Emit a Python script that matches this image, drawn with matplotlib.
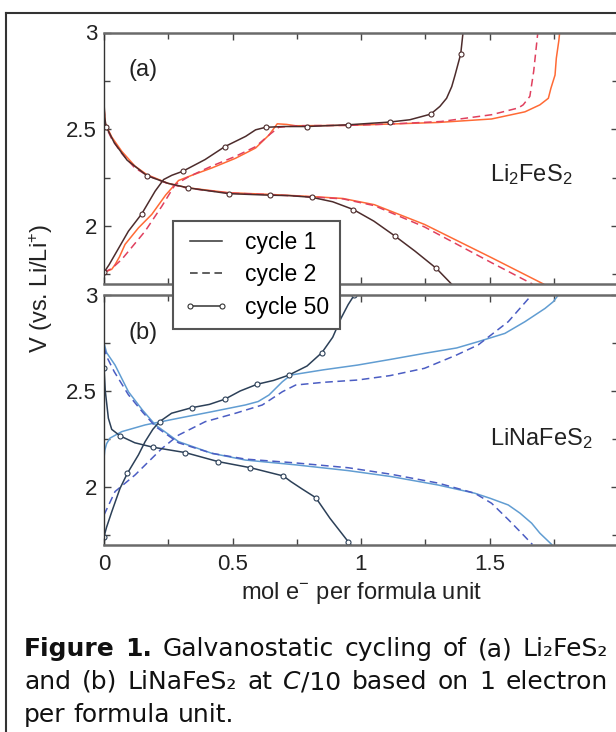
import matplotlib
matplotlib.use('Agg')
import matplotlib.pyplot as plt
from matplotlib.lines import Line2D
from matplotlib.ticker import MultipleLocator, FixedLocator

# ---- data: (a) Li2FeS2 ----
a_c1_dis_x = [0, 0.005, 0.03, 0.069, 0.12, 0.167, 0.25, 0.327, 0.486, 0.646, 0.81, 0.93, 1.052, 1.247, 1.508, 1.71]
a_c1_dis_v = [2.62, 2.53, 2.46, 2.386, 2.31, 2.265, 2.22, 2.197, 2.172, 2.163, 2.152, 2.142, 2.11, 2.008, 1.836, 1.70]
a_c2_dis_x = [0, 0.005, 0.03, 0.069, 0.12, 0.167, 0.25, 0.327, 0.486, 0.646, 0.81, 0.93, 1.052, 1.247, 1.508, 1.667]
a_c2_dis_v = [2.61, 2.52, 2.45, 2.375, 2.30, 2.262, 2.218, 2.195, 2.17, 2.162, 2.15, 2.14, 2.105, 1.995, 1.81, 1.70]
a_c50_dis_x = [0, 0.003, 0.008, 0.04, 0.09, 0.167, 0.25, 0.327, 0.486, 0.646, 0.72, 0.809, 0.89, 0.97, 1.05, 1.131, 1.21, 1.293, 1.352]
a_c50_dis_v = [2.64, 2.56, 2.514, 2.43, 2.34, 2.26, 2.22, 2.197, 2.167, 2.159, 2.157, 2.148, 2.125, 2.085, 2.025, 1.949, 1.87, 1.781, 1.70]
a_c50_dis_marks = [2, 5, 7, 8, 9, 11, 13, 15, 17]

a_c1_chg_x = [0, 0.03, 0.043, 0.06, 0.082, 0.134, 0.186, 0.24, 0.29, 0.342, 0.42, 0.512, 0.59, 0.642, 0.674,
              0.71, 0.746, 0.95, 1.117, 1.3, 1.508, 1.638, 1.696, 1.729, 1.739, 1.755, 1.76, 1.77, 1.773]
a_c1_chg_v = [1.76, 1.776, 1.80, 1.84, 1.905, 1.99, 2.06, 2.16, 2.235, 2.262, 2.30, 2.35, 2.403, 2.47, 2.528,
              2.525, 2.518, 2.52, 2.527, 2.535, 2.553, 2.59, 2.626, 2.66, 2.712, 2.78, 2.867, 2.96, 3.0]
a_c2_chg_x = [0, 0.03, 0.069, 0.16, 0.225, 0.277, 0.33, 0.42, 0.512, 0.59, 0.642, 0.68, 0.75, 0.95, 1.117,
              1.312, 1.508, 1.612, 1.631, 1.657, 1.664, 1.672, 1.68, 1.688]
a_c2_chg_v = [1.76, 1.78, 1.827, 1.973, 2.102, 2.214, 2.255, 2.31, 2.36, 2.41, 2.47, 2.51, 2.518, 2.52, 2.527,
              2.54, 2.575, 2.61, 2.626, 2.67, 2.73, 2.80, 2.90, 3.0]
a_c50_chg_x = [0, 0.02, 0.043, 0.095, 0.147, 0.199, 0.232, 0.264, 0.307, 0.393, 0.47, 0.551, 0.59, 0.629,
               0.7, 0.789, 0.951, 1.111, 1.19, 1.271, 1.307, 1.333, 1.353, 1.366, 1.388, 1.397]
a_c50_chg_v = [1.76, 1.80, 1.853, 1.973, 2.063, 2.18, 2.24, 2.262, 2.283, 2.343, 2.41, 2.463, 2.497, 2.51,
               2.514, 2.514, 2.523, 2.537, 2.549, 2.578, 2.618, 2.66, 2.72, 2.78, 2.889, 3.0]
a_c50_chg_marks = [0, 4, 8, 10, 13, 15, 16, 17, 19, 24]

# ---- (b) LiNaFeS2 ----
b_c1_dis_x = [0, 0.01, 0.043, 0.095, 0.15, 0.2, 0.29, 0.42, 0.55, 0.746, 0.95, 1.117, 1.3, 1.443, 1.502, 1.573,
              1.619, 1.664, 1.696, 1.742]
b_c1_dis_v = [2.75, 2.70, 2.635, 2.496, 2.40, 2.323, 2.236, 2.175, 2.14, 2.115, 2.085, 2.054, 2.01, 1.967, 1.941, 1.906,
              1.863, 1.811, 1.759, 1.70]
b_c2_dis_x = [0, 0.01, 0.04, 0.095, 0.15, 0.2, 0.29, 0.42, 0.55, 0.746, 0.95, 1.117, 1.3, 1.443, 1.508, 1.573,
              1.625, 1.667]
b_c2_dis_v = [2.73, 2.68, 2.60, 2.48, 2.39, 2.315, 2.23, 2.175, 2.145, 2.125, 2.10, 2.066, 2.02, 1.967, 1.915, 1.83,
              1.759, 1.70]
b_c50_dis_x = [0, 0.005, 0.017, 0.03, 0.0625, 0.12, 0.19, 0.316, 0.444, 0.57, 0.698, 0.727, 0.77, 0.824, 0.879, 0.95, 0.96]
b_c50_dis_v = [2.62, 2.50, 2.358, 2.30, 2.266, 2.23, 2.207, 2.179, 2.132, 2.10, 2.057, 2.028, 1.99, 1.944, 1.837, 1.715, 1.70]
b_c50_dis_marks = [0, 4, 6, 7, 8, 9, 10, 13, 15]

b_c1_chg_x = [0, 0.003, 0.01, 0.023, 0.069, 0.16, 0.29, 0.42, 0.55, 0.6, 0.642, 0.694, 0.727, 0.853, 0.987,
              1.113, 1.247, 1.372, 1.456, 1.56, 1.638, 1.716, 1.748, 1.768]
b_c1_chg_v = [2.15, 2.19, 2.225, 2.254, 2.288, 2.323, 2.358, 2.392, 2.427, 2.445, 2.479, 2.548, 2.583, 2.61, 2.635,
              2.664, 2.696, 2.724, 2.757, 2.80, 2.861, 2.93, 2.965, 3.0]
b_c2_chg_x = [0, 0.043, 0.121, 0.225, 0.29, 0.394, 0.512, 0.616, 0.694, 0.746, 0.853, 0.987, 1.113, 1.247,
              1.372, 1.456, 1.573, 1.664]
b_c2_chg_v = [1.854, 1.976, 2.0625, 2.2, 2.27, 2.34, 2.384, 2.427, 2.496, 2.531, 2.545, 2.557, 2.58, 2.618,
              2.6875, 2.74, 2.861, 3.0]
b_c50_chg_x = [0, 0.01, 0.03, 0.0625, 0.091, 0.134, 0.16, 0.19, 0.216, 0.263, 0.342, 0.41, 0.47, 0.53, 0.596,
               0.66, 0.72, 0.79, 0.848, 0.89, 0.922, 0.95, 0.974]
b_c50_chg_v = [1.741, 1.79, 1.87, 1.993, 2.071, 2.167, 2.236, 2.30, 2.34, 2.384, 2.413, 2.43, 2.457, 2.50, 2.535,
               2.555, 2.583, 2.63, 2.70, 2.78, 2.878, 2.95, 3.0]
b_c50_chg_marks = [0, 4, 8, 10, 12, 14, 16, 18, 22]

x_ticks = [0, 0.5, 1, 1.5]
x_tick_labels = ['0', '0.5', '1', '1.5']
y_ticks = [2, 2.5, 3]
y_tick_labels = ['2', '2.5', '3']
legend_labels = ['cycle 1', 'cycle 2', 'cycle 50']

a_colors = ['#ff6a35', '#e0405e', '#4d2c2c']
b_colors = ['#619dd2', '#4b5dc3', '#2c4058']

plt.rcParams['font.family'] = ['Liberation Sans', 'DejaVu Sans']
plt.rcParams['mathtext.fontset'] = 'custom'
plt.rcParams['mathtext.rm'] = 'Liberation Sans'
plt.rcParams['mathtext.it'] = 'Liberation Sans:italic'
plt.rcParams['mathtext.bf'] = 'Liberation Sans:bold'

W, H = 616, 732
fig = plt.figure(figsize=(W / 100, H / 100), dpi=100)


def box(top, bottom):
    return [104 / W, 1 - bottom / H, 514 / W, (bottom - top) / H]


ax1 = fig.add_axes(box(32.5, 284))
ax2 = fig.add_axes(box(295, 544.5))

LW = 1.1


def draw(ax, cols, c1, c2, c50, marks):
    for (x, v) in c1:
        ax.plot(x, v, color=cols[0], lw=LW)
    for (x, v) in c2:
        ax.plot(x, v, color=cols[1], lw=LW, ls=(0, (5, 3)))
    for (x, v), m in zip(c50, marks):
        ax.plot(x, v, color=cols[2], lw=LW, marker='o', ms=3.6, mfc='white',
                mec=cols[2], mew=0.8, markevery=m)


draw(ax1, a_colors,
     [(a_c1_dis_x, a_c1_dis_v), (a_c1_chg_x, a_c1_chg_v)],
     [(a_c2_dis_x, a_c2_dis_v), (a_c2_chg_x, a_c2_chg_v)],
     [(a_c50_dis_x, a_c50_dis_v), (a_c50_chg_x, a_c50_chg_v)],
     [a_c50_dis_marks, a_c50_chg_marks])
draw(ax2, b_colors,
     [(b_c1_dis_x, b_c1_dis_v), (b_c1_chg_x, b_c1_chg_v)],
     [(b_c2_dis_x, b_c2_dis_v), (b_c2_chg_x, b_c2_chg_v)],
     [(b_c50_dis_x, b_c50_dis_v), (b_c50_chg_x, b_c50_chg_v)],
     [b_c50_dis_marks, b_c50_chg_marks])

for ax in (ax1, ax2):
    ax.set_xlim(0, 2)
    ax.set_ylim(1.7, 3)
    ax.set_xticks(x_ticks)
    ax.set_xticklabels(x_tick_labels)
    ax.xaxis.set_minor_locator(MultipleLocator(0.25))
    ax.set_yticks(y_ticks)
    ax.set_yticklabels(y_tick_labels)
    ax.yaxis.set_minor_locator(FixedLocator([1.75, 2.25, 2.75]))
    ax.tick_params(which='both', direction='in', top=True, right=True,
                   color='#444444', width=1, labelsize=16, labelcolor='#222222')
    ax.tick_params(which='major', length=5)
    ax.tick_params(which='minor', length=4)
    ax.tick_params(axis='y', pad=5)
    ax.tick_params(axis='x', pad=6.5)
    for side in ('top', 'bottom', 'right'):
        ax.spines[side].set_color('#6a6a6a')
        ax.spines[side].set_linewidth(1.8)
    ax.spines['left'].set_color('#333333')
    ax.spines['left'].set_linewidth(1.0)

ax1.tick_params(labelbottom=False)

ax1.text(0.152, 2.807, '(a)', fontsize=17, ha='center', va='center', color='#222222')
ax2.text(0.152, 2.80, '(b)', fontsize=17, ha='center', va='center', color='#222222')
ax1.text(1.502, 2.23, r'Li$_2$FeS$_2$', fontsize=17, ha='left', va='baseline', color='#222222')
ax2.text(1.502, 2.22, r'LiNaFeS$_2$', fontsize=17, ha='left', va='baseline', color='#222222')

ax2.set_xlabel(r'mol e$^{-}$ per formula unit', fontsize=17, color='#222222', labelpad=4)
fig.text(41 / W, 1 - 288 / H, r'V (vs. Li/Li$^{+}$)', fontsize=17, rotation=90,
         ha='center', va='center', color='#222222')

handles = [Line2D([], [], color='#333333', lw=LW),
           Line2D([], [], color='#333333', lw=LW, ls=(0, (5, 3))),
           Line2D([], [], color='#333333', lw=LW, marker='o', ms=3.6, mfc='white', mew=0.8)]
leg = fig.legend(handles, legend_labels, loc='upper left', bbox_to_anchor=(173 / W, 1 - 221 / H),
                 borderaxespad=0, fancybox=False, framealpha=1, edgecolor='#555555', fontsize=16.5,
                 numpoints=2, handlelength=2.0, handletextpad=0.7, borderpad=0.45, labelspacing=0.4)
leg.get_frame().set_linewidth(1.5)

# outer frame of the figure box
fig.add_artist(Line2D([6 / W, 6 / W], [0, 1 - 13 / H], transform=fig.transFigure, color='#333333', lw=1.5))
fig.add_artist(Line2D([6 / W, 1], [1 - 13 / H, 1 - 13 / H], transform=fig.transFigure, color='#333333', lw=1.5))

# caption, justified like the page text
caption = [
    [[('Figure', 'b')], [('1.', 'b')], [('Galvanostatic', 'n')], [('cycling', 'n')], [('of', 'n')],
     [('(a)', 'n')], [('Li\u2082FeS\u2082', 'n')]],
    [[('and', 'n')], [('(b)', 'n')], [('LiNaFeS\u2082', 'n')], [('at', 'n')], [('C', 'i'), ('/10', 'n')],
     [('based', 'n')], [('on', 'n')], [('1', 'n')], [('electron', 'n')]],
    [[('per', 'n')], [('formula', 'n')], [('unit.', 'n')]],
]
caption_base = [656, 689, 722]
cap_left, cap_right = 24, 608

r = fig.canvas.get_renderer()
for li, (words, base) in enumerate(zip(caption, caption_base)):
    placed = []
    total = 0
    for word in words:
        segs = []
        for txt, st in word:
            t = fig.text(0, 1 - base / H, txt, fontsize=18, family='DejaVu Sans', color='#111111',
                         fontweight='bold' if st == 'b' else 'normal',
                         fontstyle='italic' if st == 'i' else 'normal', va='baseline', ha='left')
            w = t.get_window_extent(r).width
            segs.append((t, w))
            total += w
        placed.append(segs)
    if li < len(caption) - 1:
        gap = (cap_right - cap_left - total) / (len(words) - 1)
    else:
        gap = 18 * 100 / 72 * 0.318
    x = cap_left
    for segs in placed:
        for t, w in segs:
            t.set_x(x / W)
            x += w
        x += gap

fig.savefig('out.png', dpi=100)
